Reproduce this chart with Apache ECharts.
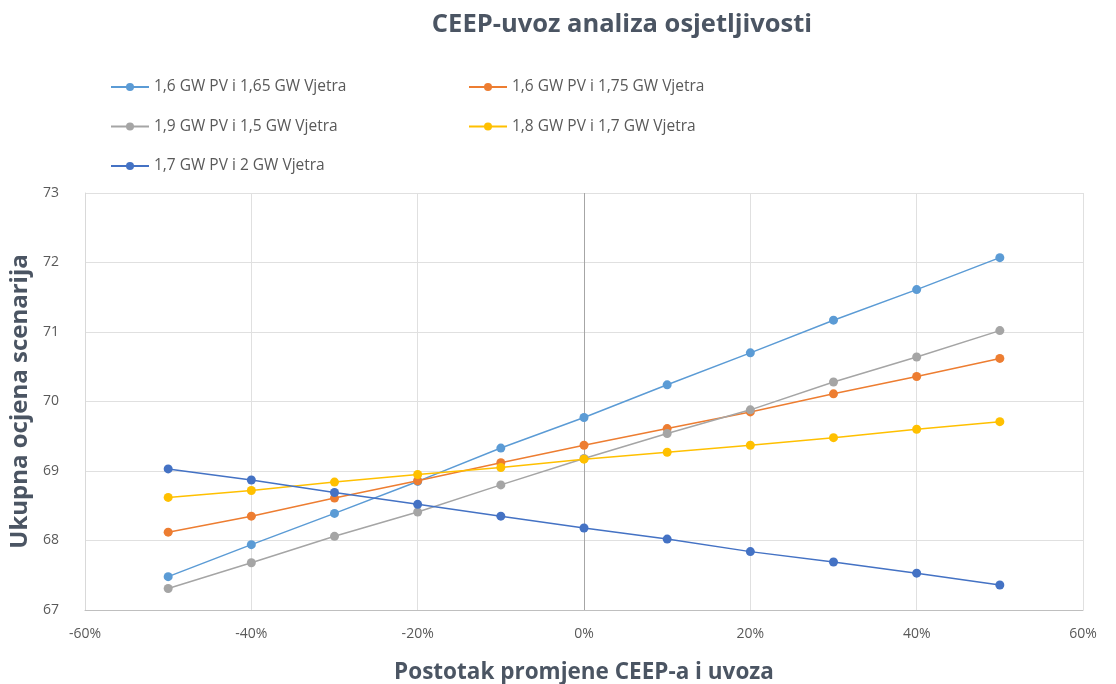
<!DOCTYPE html>
<html>
<head>
<meta charset="utf-8">
<title>CEEP-uvoz analiza osjetljivosti</title>
<script src="https://cdn.jsdelivr.net/npm/echarts@6/dist/echarts.min.js"></script>
<style>
  html, body { margin: 0; padding: 0; background: #fff; }
  #chart { width: 1116px; height: 684px; }
</style>
</head>
<body>
<div id="chart"></div>
<script>
// promjena CEEP-a i uvoza (%)
var promjena = [-50, -40, -30, -20, -10, 0, 10, 20, 30, 40, 50];

var nazivi = [
  '1,6 GW PV i 1,65 GW Vjetra',
  '1,6 GW PV i 1,75 GW Vjetra',
  '1,9 GW PV i 1,5 GW Vjetra',
  '1,8 GW PV i 1,7 GW Vjetra',
  '1,7 GW PV i 2 GW Vjetra'
];
var boje = ['#5B9BD5', '#ED7D31', '#A5A5A5', '#FFC000', '#4472C4'];

var pv16_w165 = [67.48, 67.94, 68.39, 68.85, 69.33, 69.77, 70.24, 70.70, 71.17, 71.61, 72.07];
var pv16_w175 = [68.12, 68.35, 68.61, 68.86, 69.12, 69.37, 69.61, 69.85, 70.11, 70.36, 70.62];
var pv19_w15  = [67.31, 67.68, 68.06, 68.41, 68.80, 69.18, 69.54, 69.88, 70.28, 70.64, 71.02];
var pv18_w17  = [68.62, 68.72, 68.84, 68.95, 69.05, 69.17, 69.27, 69.37, 69.48, 69.60, 69.71];
var pv17_w2   = [69.03, 68.87, 68.69, 68.52, 68.35, 68.18, 68.02, 67.84, 67.69, 67.53, 67.36];

var sveVrijednosti = [pv16_w165, pv16_w175, pv19_w15, pv18_w17, pv17_w2];

var sivaTekst = '#595959';
var naslovBoja = '#4b5563';
var myechart = echarts.init(document.getElementById('chart'));

var series = [];
for (var i = 0; i < nazivi.length; i++) {
  var tocke = [];
  for (var j = 0; j < promjena.length; j++) {
    tocke.push([promjena[j], sveVrijednosti[i][j]]);
  }
  var s = {
    name: nazivi[i],
    type: 'line',
    data: tocke,
    symbol: 'circle',
    symbolSize: 9,
    color: boje[i],
    lineStyle: { width: 1.5, color: boje[i] },
    itemStyle: { color: boje[i] },
    z: 3 + i
  };
  if (i === 0) {
    // os u 0% (tamnija okomita linija)
    s.markLine = {
      silent: true,
      symbol: 'none',
      label: { show: false },
      lineStyle: { color: '#a6a6a6', type: 'solid', width: 1 },
      data: [{ xAxis: 0 }],
      z: 1
    };
  }
  series.push(s);
}

var legendaStil = {
  orient: 'vertical',
  itemWidth: 38,
  itemHeight: 10,
  itemGap: 23.5,
  textStyle: { color: sivaTekst, fontSize: 15.5, fontFamily: 'Open Sans' }
};

var option = {
  animation: false,
  backgroundColor: '#fff',
  title: {
    text: 'CEEP-uvoz analiza osjetljivosti',
    left: 617,
    textAlign: 'center',
    top: 7,
    textStyle: { color: naslovBoja, fontSize: 25.5, fontWeight: 'bold', fontFamily: 'Open Sans' }
  },
  legend: [
    Object.assign({ left: 105, top: 74, data: [nazivi[0], nazivi[2], nazivi[4]] }, legendaStil),
    Object.assign({ left: 463, top: 74, data: [nazivi[1], nazivi[3]] }, legendaStil)
  ],
  grid: { left: 85, right: 33, top: 193, bottom: 74, outerBoundsMode: 'none', containLabel: false },
  xAxis: {
    type: 'value',
    min: -60,
    max: 60,
    interval: 20,
    name: 'Postotak promjene CEEP-a i uvoza',
    nameLocation: 'middle',
    nameGap: 51,
    nameTextStyle: { color: naslovBoja, fontSize: 22.5, fontWeight: 'bold', fontFamily: 'Open Sans' },
    axisLine: { show: true, onZero: false, lineStyle: { color: '#bfbfbf' } },
    axisTick: { show: false },
    axisLabel: { color: sivaTekst, fontSize: 14, fontFamily: 'Open Sans', margin: 17, formatter: '{value}%' },
    splitLine: { show: true, lineStyle: { color: '#e0e0e0' } }
  },
  yAxis: {
    type: 'value',
    min: 67,
    max: 73,
    interval: 1,
    name: 'Ukupna ocjena scenarija',
    nameLocation: 'middle',
    nameGap: 51,
    nameTextStyle: { color: naslovBoja, fontSize: 24, fontWeight: 'bold', fontFamily: 'Open Sans' },
    axisLine: { show: true, onZero: false, lineStyle: { color: '#d9d9d9' } },
    axisTick: { show: false },
    axisLabel: { color: sivaTekst, fontSize: 14, fontFamily: 'Open Sans', margin: 26 },
    splitLine: { show: true, lineStyle: { color: '#e0e0e0' } }
  },
  series: series
};

myechart.setOption(option);
</script>
</body>
</html>
